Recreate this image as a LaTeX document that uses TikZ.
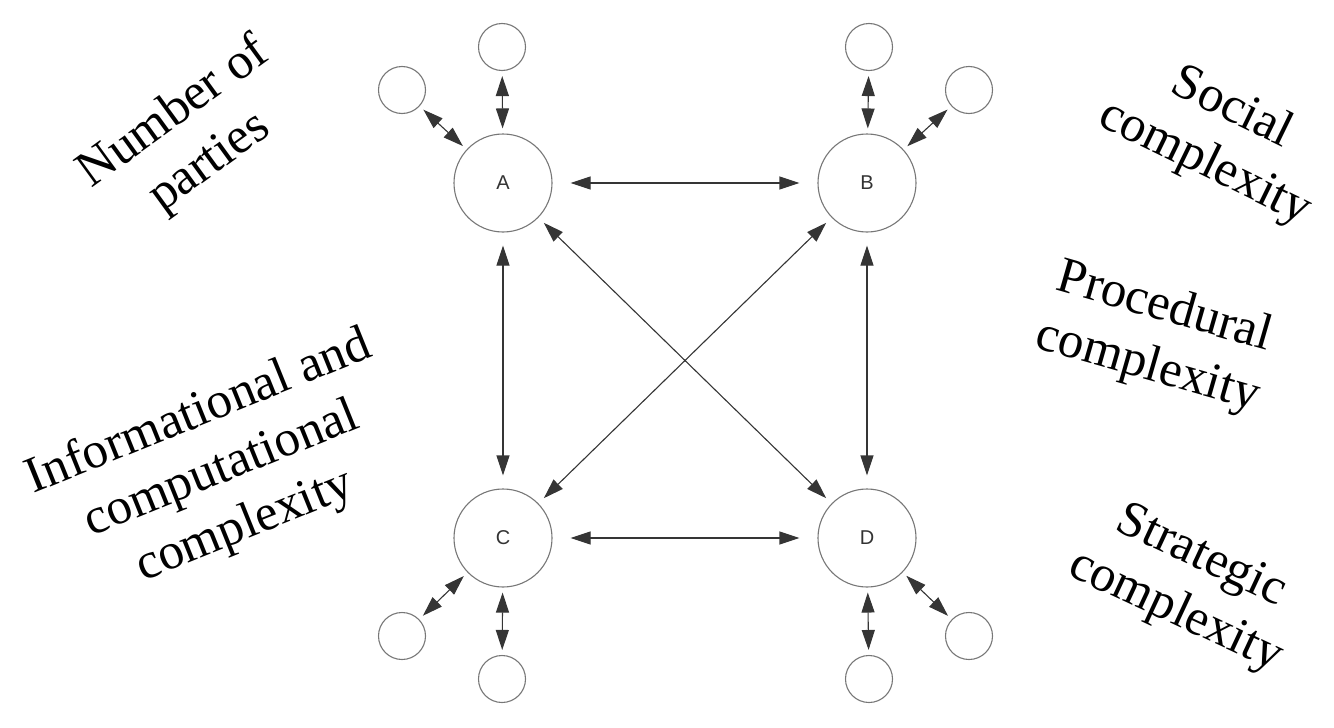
\documentclass[tikz,border=0pt]{standalone}
\usepackage{fontspec}
\setmainfont{Liberation Serif}
\newfontfamily\lettersfont{Liberation Sans}
\usetikzlibrary{arrows.meta}
\definecolor{circgray}{HTML}{777777}
\definecolor{arrgray}{HTML}{353535}
\begin{document}
\begin{tikzpicture}[x=1pt,y=-1pt,
  bigc/.style={circle,draw=circgray,line width=1.1pt,minimum size=98pt,inner sep=0pt,
    font=\lettersfont\fontsize{20}{20}\selectfont,text=black!80},
  smallc/.style={circle,draw=circgray,line width=1.1pt,minimum size=47pt,inner sep=0pt},
  biarrow/.style={draw=arrgray,line width=1.1pt,
    {Triangle[length=20pt,width=13pt]}-{Triangle[length=20pt,width=13pt]}},
  lbl/.style={align=center,font=\fontsize{51}{61}\selectfont,inner sep=0pt}]
\useasboundingbox (0,0) rectangle (1334,728);
% main nodes
\node[bigc] (A) at (503,183) {A};
\node[bigc] (B) at (867,183) {B};
\node[bigc] (C) at (503,538) {C};
\node[bigc] (D) at (867,538) {D};
% satellites
\node[smallc] (At) at (502,47) {};
\node[smallc] (Al) at (402,90) {};
\node[smallc] (Bt) at (869,47) {};
\node[smallc] (Br) at (969,90) {};
\node[smallc] (Cl) at (402,636) {};
\node[smallc] (Cb) at (502,679) {};
\node[smallc] (Db) at (869,679) {};
\node[smallc] (Dr) at (969,636) {};
% main connectors
\draw[biarrow,shorten <=18pt,shorten >=18pt] (A) -- (B);
\draw[biarrow,shorten <=18pt,shorten >=18pt] (C) -- (D);
\draw[biarrow,shorten <=13pt,shorten >=13pt] (A) -- (C);
\draw[biarrow,shorten <=13pt,shorten >=13pt] (B) -- (D);
\draw[biarrow,shorten <=7.5pt,shorten >=7.5pt] (A) -- (D);
\draw[biarrow,shorten <=7.5pt,shorten >=7.5pt] (B) -- (C);
% satellite connectors
\foreach \s/\m in {At/A,Al/A,Bt/B,Br/B,Cl/C,Cb/C,Db/D,Dr/D}
  \draw[biarrow,shorten <=5pt,shorten >=5pt] (\s) -- (\m);
% labels
\node[lbl,rotate=36] (L1) at (192,138) {Number of\\parties};
\node[lbl,rotate=-26] (L2) at (1218,136) {Social\\complexity};
\node[lbl,rotate=-16] (L3) at (1156,338) {Procedural\\complexity};
\node[lbl,rotate=22] (L4) at (222,470) {Informational and\\computational\\complexity};
\node[lbl,rotate=-25] (L5) at (1188,585) {Strategic\\complexity};
\end{tikzpicture}
\end{document}
